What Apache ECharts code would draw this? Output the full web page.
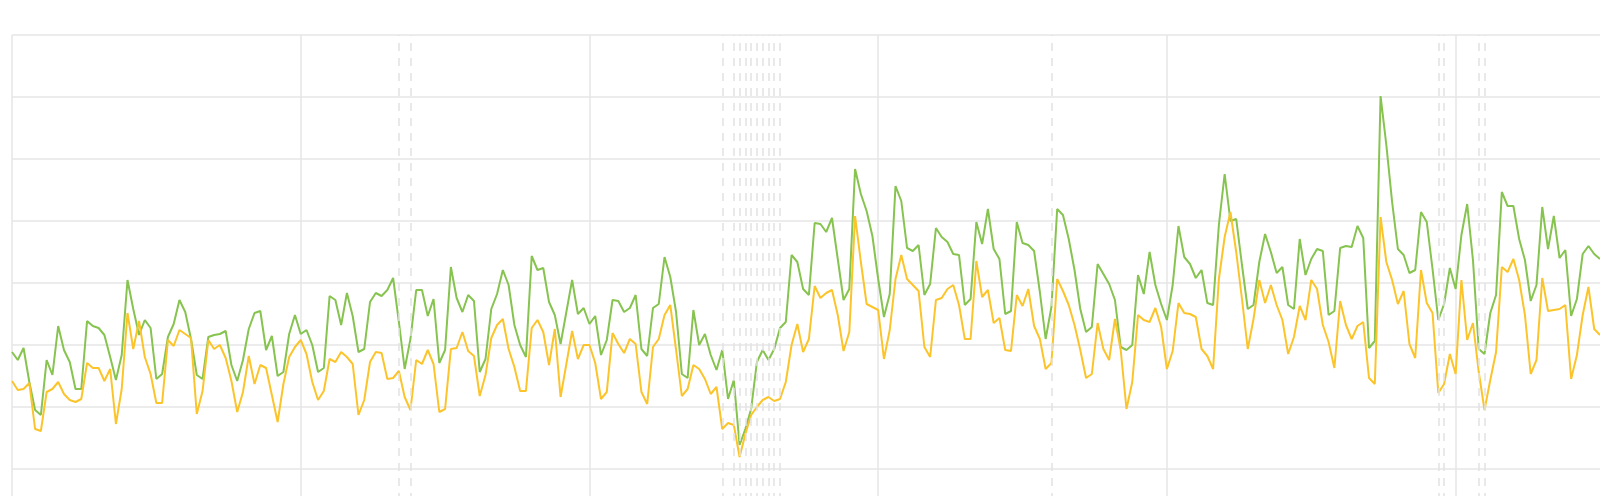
<!DOCTYPE html>
<html><head><meta charset="utf-8">
<script src="https://cdn.jsdelivr.net/npm/echarts@6/dist/echarts.min.js"></script>
<style>html,body{margin:0;padding:0;background:#fff;overflow:hidden}#c{width:1600px;height:496px}</style>
</head><body><div id="c"></div>
<script>
const seriesA = [179,171,183,149,121,116,171,156,205,181,169,142,142,210,205,203,196,174,151,176,251,222,196,211,203,152,157,194,207,231,219,192,156,
152,194,196,197,200,166,150,171,202,218,220,181,195,155,159,197,216,197,201,186,159,163,235,231,206,238,215,179,182,229,238,235,241,
253,209,162,192,241,241,215,232,168,181,264,233,219,236,230,159,172,222,237,261,246,206,186,174,275,261,263,229,216,187,219,251,217,
223,207,215,176,191,231,230,219,223,236,182,175,223,227,274,254,219,157,153,221,186,197,176,161,181,132,151,86,102,122,169,181,171,
182,203,209,276,269,242,236,308,307,299,313,272,231,242,362,337,320,295,252,214,237,345,330,283,280,286,236,247,303,294,289,277,276,
226,232,309,287,322,282,272,217,220,309,288,286,280,239,192,224,322,316,292,261,222,199,204,267,257,247,231,184,181,186,256,237,279,
246,227,211,246,305,274,267,253,261,228,226,306,357,310,312,266,222,226,269,297,279,258,264,226,222,292,256,272,282,280,216,220,
283,285,284,305,293,183,190,435,386,329,282,276,258,261,319,309,262,211,227,263,242,296,327,271,182,177,218,236,339,325,325,292,271,230,246,324,282,315,273,281,215,232,277,285,277,272];
const seriesB = [150,141,142,148,102,100,139,142,149,137,131,129,132,168,163,163,150,162,107,142,218,182,210,174,157,128,128,191,185,201,197,193,117,
140,191,182,186,173,150,119,139,175,147,166,163,136,109,147,174,184,191,177,149,131,140,172,169,179,174,167,116,131,169,179,178,152,
153,160,134,121,171,167,181,167,119,122,182,183,199,180,175,135,156,193,206,212,182,164,140,140,203,211,199,166,202,134,167,200,172,
186,186,168,132,139,198,187,178,192,187,139,127,184,192,216,226,181,135,142,166,162,152,137,144,102,108,106,74,97,116,124,131,134,
130,132,149,186,207,179,192,245,233,238,241,216,180,199,315,269,227,224,221,172,201,252,276,252,246,240,184,174,231,233,242,246,226,
192,192,270,234,241,208,213,181,180,236,225,242,205,192,162,168,252,240,226,206,181,153,157,208,182,171,212,181,122,149,216,211,209,
223,204,162,180,228,218,217,214,182,175,162,252,294,319,279,232,182,212,251,228,246,226,211,177,194,225,211,251,242,206,189,163,
230,206,192,205,209,153,147,314,269,251,227,240,187,173,261,228,218,138,147,177,157,251,191,208,159,121,151,179,264,259,272,251,216,157,171,253,220,221,222,226,152,176,216,244,202,196];
const categories = seriesA.map((_, i) => String(i + 1));
const markedDays = [67,69,123,125,126,127,128,129,130,131,132,133,180,247,248,254,255];

const chart = echarts.init(document.getElementById('c'));
chart.setOption({
  animation: false,
  grid: {left: 12, top: 35, width: 1588, height: 496, outerBoundsMode: 'none', containLabel: false},
  xAxis: {
    type: 'category', data: categories, boundaryGap: false,
    axisLine: {show: false}, axisTick: {show: false}, axisLabel: {show: false},
    splitLine: {show: true, interval: 49, lineStyle: {color: '#e6e6e6', width: 1.5}}
  },
  yAxis: {
    type: 'value', min: 0, max: 496, interval: 62,
    axisLine: {show: false}, axisTick: {show: false}, axisLabel: {show: false},
    splitLine: {lineStyle: {color: '#e6e6e6', width: 1.5}}
  },
  series: [
    {type: 'line', data: seriesA, symbol: 'none', lineStyle: {color: '#86c34f', width: 2}, itemStyle: {color: '#86c34f'},
     markLine: {silent: true, symbol: 'none', label: {show: false},
       lineStyle: {color: '#e2e2e2', type: [8, 7], width: 1.5},
       data: markedDays.map(d => ({xAxis: d}))}},
    {type: 'line', data: seriesB, symbol: 'none', lineStyle: {color: '#fcc42b', width: 2}, itemStyle: {color: '#fcc42b'}}
  ]
});
</script></body></html>
